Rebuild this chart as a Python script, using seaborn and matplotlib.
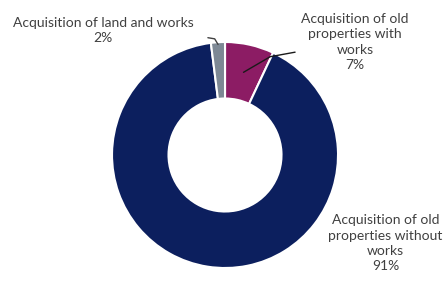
import numpy as np
import matplotlib.pyplot as plt
import seaborn as sns

# Data
labels = ["Acquisition of old\nproperties with\nworks", "Acquisition of old\nproperties without\nworks", "Acquisition of land and works"]
shares = [7, 91, 2]
colors = ["#8c1c64", "#0c1f5e", "#7d8894"]

sns.set_style("white")
plt.rcParams['font.family'] = ['Lato', 'DejaVu Sans']

fig = plt.figure(figsize=(4.47, 2.84), dpi=100)
ax = fig.add_axes([0.2506, 0.0563, 0.5056, 0.7958])

wedges, _ = ax.pie(shares, colors=colors, startangle=90, counterclock=False, radius=1,
                   wedgeprops=dict(width=0.5, edgecolor="white", linewidth=1.5))
ax.set_xlim(-1, 1)
ax.set_ylim(-1, 1)
ax.set_aspect("equal")
ax.axis("off")

txt = dict(color="#404040", fontsize=10, ha="center", va="center", linespacing=1.32, clip_on=False)

# label positions (data coords)
label_pos = [(1.15, 1.00), (1.42, -0.78), (-1.08, 1.10)]
for lab, val, (tx, ty) in zip(labels, shares, label_pos):
    ax.text(tx, ty, f"{lab}\n{val}%", **txt)

# leader lines
w = wedges[0]
mid = np.deg2rad((w.theta1 + w.theta2) / 2)
p0 = (0.75 * np.cos(mid), 0.75 * np.sin(mid))
ax.plot([p0[0], 0.40, 0.62], [p0[1], 0.87, 0.91], color="#1a1a1a", lw=1, clip_on=False)

w = wedges[2]
mid = np.deg2rad((w.theta1 + w.theta2) / 2)
p0 = (0.98 * np.cos(mid), 0.98 * np.sin(mid))
ax.plot([p0[0], p0[0] - 0.03, p0[0] - 0.09], [p0[1], p0[1] + 0.05, p0[1] + 0.06], color="#404040", lw=1, clip_on=False)

fig.savefig("out.png", dpi=100)
